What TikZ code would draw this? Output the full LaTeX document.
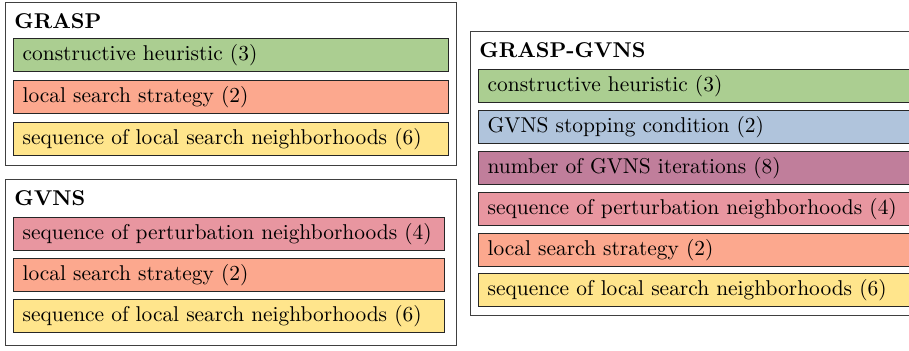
\documentclass[tikz,border=0pt]{standalone}
\usetikzlibrary{positioning}
\definecolor{cgreen}{RGB}{171,206,145}
\definecolor{csalmon}{RGB}{252,168,142}
\definecolor{cyellow}{RGB}{255,229,140}
\definecolor{cpink}{RGB}{232,150,160}
\definecolor{cblue}{RGB}{176,196,220}
\definecolor{cpurple}{RGB}{192,126,155}
\tikzset{
  outerbox/.style={draw=black!75, line width=0.5pt, anchor=north west, inner sep=0pt},
  titletext/.style={anchor=base west, inner sep=0pt, font=\bfseries},
  itembox/.style={draw=black!85, line width=0.6pt, anchor=north west,
    inner xsep=4.2pt, inner ysep=0pt, minimum height=15.4pt, align=left},
  gwide/.style={itembox, text width=194.7pt},
  vwide/.style={itembox, text width=192.9pt},
  rwide/.style={itembox, text width=196.6pt},
}
\begin{document}
\begin{tikzpicture}[x=0.467pt, y=-0.467pt]
\useasboundingbox (0,0) rectangle (909,350);
\clip (0,0) rectangle (909,350);
% GRASP
\node[outerbox, minimum width=210.6pt, minimum height=76.1pt] (grasp) at (5,2) {};
\node[titletext] (grasptitle) at (14,28) {GRASP};
\node[gwide, fill=cgreen] (g1) at (13,38) {constructive heuristic (3)};
\node[gwide, fill=csalmon] (g2) at (13,80) {local search strategy (2)};
\node[gwide, fill=cyellow] (g3) at (13,122) {sequence of local search neighborhoods (6)};
% GVNS
\node[outerbox, minimum width=210.6pt, minimum height=77.5pt] (gvns) at (5,179) {};
\node[titletext] (gvnstitle) at (14,205) {GVNS};
\node[vwide, fill=cpink] (v1) at (13,217) {sequence of perturbation neighborhoods (4)};
\node[vwide, fill=csalmon] (v2) at (13,258) {local search strategy (2)};
\node[vwide, fill=cyellow] (v3) at (13,299) {sequence of local search neighborhoods (6)};
% GRASP-GVNS
\node[outerbox, minimum width=212.5pt, minimum height=132.6pt] (gg) at (470,31) {};
\node[titletext] (ggtitle) at (479,57) {GRASP-GVNS};
\node[rwide, fill=cgreen] (r1) at (478,69) {constructive heuristic (3)};
\node[rwide, fill=cblue] (r2) at (478,110) {GVNS stopping condition (2)};
\node[rwide, fill=cpurple] (r3) at (478,151) {number of GVNS iterations (8)};
\node[rwide, fill=cpink] (r4) at (478,192) {sequence of perturbation neighborhoods (4)};
\node[rwide, fill=csalmon] (r5) at (478,233) {local search strategy (2)};
\node[rwide, fill=cyellow] (r6) at (478,273) {sequence of local search neighborhoods (6)};
\end{tikzpicture}
\end{document}
